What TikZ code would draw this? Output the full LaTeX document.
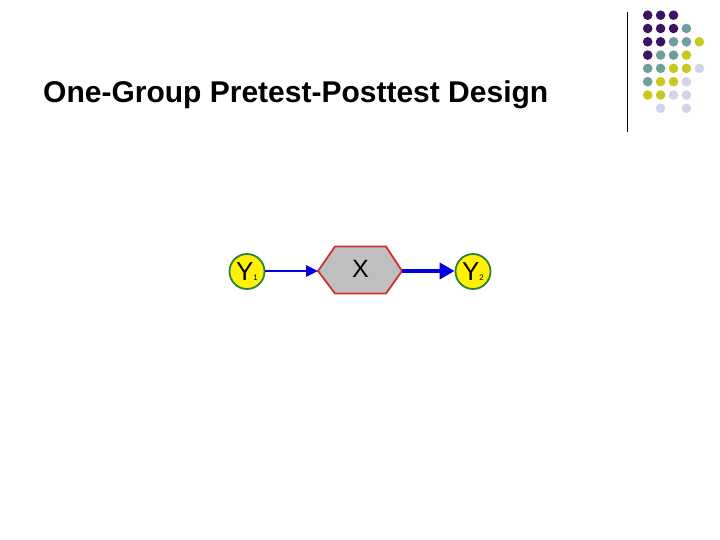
\documentclass[tikz,border=0pt]{standalone}
\usepackage{fontspec}
\setmainfont{Liberation Sans}
\usetikzlibrary{arrows.meta}
\definecolor{dpurple}{HTML}{3C1464}
\definecolor{dteal}{HTML}{6E9E9E}
\definecolor{dyellow}{HTML}{C8C820}
\definecolor{dlav}{HTML}{D4D4E8}
\definecolor{ygreen}{HTML}{2F8040}
\definecolor{hexred}{HTML}{D03030}
\definecolor{arrblue}{HTML}{0000E0}
\tikzset{
  ynode/.style={circle, draw=ygreen, line width=1.8pt, fill=yellow, minimum size=35pt, inner sep=0pt, font=\fontsize{26}{26}\selectfont},
  hexshape/.style={draw=hexred, line width=1.8pt, fill=gray!50, line join=miter},
  thinarrow/.style={draw=arrblue, line width=2.6pt, -{Triangle[length=12pt,width=11pt]}},
  thickarrow/.style={draw=arrblue, line width=4.5pt, -{Triangle[length=15pt,width=16pt]}},
  dotp/.style={fill=dpurple},
  dott/.style={fill=dteal},
  doty/.style={fill=dyellow},
  dotl/.style={fill=dlav},
  dotn/.style={fill=none},
}
\newcommand{\subsm}[1]{{\fontsize{8}{8}\selectfont #1}}
\begin{document}
\begin{tikzpicture}[x=1pt,y=-1pt]
\useasboundingbox (0,0) rectangle (720,540);
\fill[white] (0,0) rectangle (720,540);
% title
\node[anchor=base west, inner sep=0pt, font=\bfseries\fontsize{30}{30}\selectfont] (title) at (43,102.5) {One-Group Pretest-Posttest Design};
% vertical rule
\draw[line width=1pt] (627.3,12) -- (627.3,132);
% dot grid
\foreach \r/\row in {0/{p,p,p,n,n},1/{p,p,p,t,n},2/{p,p,t,t,y},3/{p,t,t,y,n},4/{t,t,y,y,l},5/{t,y,y,l,n},6/{y,y,l,l,n},7/{n,l,n,l,n}}{
  \foreach \c [count=\i from 0] in \row {
    \fill[dot\c] ({647.7+12.9*\i},{15.2+13.3*\r}) circle (4.8);
  }
}
% diagram
\node[ynode] (y1) at (247,271.5) {Y\subsm{1}};
\node[ynode] (y2) at (473,271.5) {Y\subsm{2}};
\coordinate (hexL) at (318,271);
\coordinate (hexR) at (402,271);
\draw[hexshape] (hexL) -- (335,246.5) -- (386,246.5) -- (hexR) -- (386,293.5) -- (335,293.5) -- cycle;
\node[font=\fontsize{25}{25}\selectfont, inner sep=0pt] (x) at (360.5,268.5) {X};
\draw[thinarrow] (y1.east |- hexL) -- (hexL);
\draw[thickarrow] (hexR) -- (y2.west |- hexR);
\end{tikzpicture}
\end{document}
